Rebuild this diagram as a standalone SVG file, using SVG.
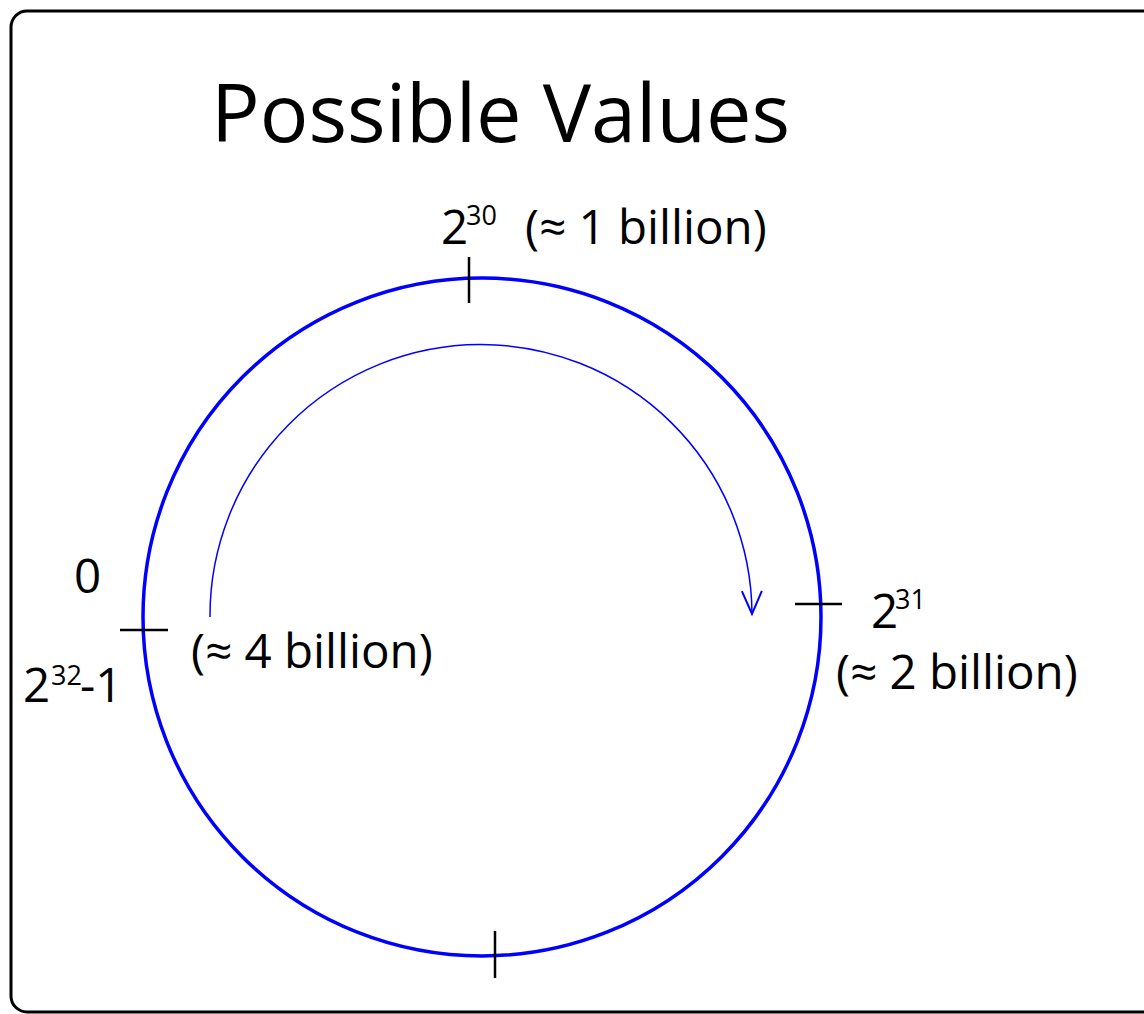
<svg xmlns="http://www.w3.org/2000/svg" width="1144" height="1014" viewBox="0 0 1144 1014">
<style>
text{font-family:"Open Sans","Noto Sans",sans-serif;fill:#000}
.lbl{font-size:47.5px}
.sup{font-size:27px}
.tick{stroke:#000;stroke-width:2.5;fill:none}
</style>
<defs>
<marker id="arr" viewBox="-25 -13 28 26" refX="0" refY="0" markerWidth="28" markerHeight="26" markerUnits="userSpaceOnUse" orient="auto">
<path d="M-23,-10 L0,0 L-23,10" fill="none" stroke="#0000ff" stroke-width="2"/>
</marker>
</defs>
<rect id="frame" x="11" y="11" width="1150" height="1001" rx="16" fill="#fff" stroke="#000" stroke-width="3"/>
<text id="title" x="211" y="142" style="font-size:81px">Possible Values</text>
<g id="ring">
<circle cx="482" cy="617" r="339" fill="none" stroke="#0000ff" stroke-width="3.5"/>
</g>
<g id="connectors">
<path d="M210,617 A271,271 0 0 1 752,614" fill="none" stroke="#0000ff" stroke-width="1.5" marker-end="url(#arr)"/>
</g>
<g id="ticks">
<line class="tick" x1="469" y1="257" x2="469" y2="303"/>
<line class="tick" x1="795" y1="604" x2="842" y2="604"/>
<line class="tick" x1="120" y1="630" x2="168" y2="630"/>
<line class="tick" x1="495" y1="931" x2="495" y2="978"/>
</g>
<g id="label-top">
<text class="lbl" x="441" y="244">2<tspan class="sup" x="466" y="225">30</tspan></text>
<text class="lbl" x="525" y="244">(≈ 1 billion)</text>
</g>
<g id="label-left">
<text class="lbl" x="74" y="593">0</text>
<text class="lbl" x="23" y="702">2<tspan class="sup" x="51" y="685">32</tspan><tspan x="80" y="702">-1</tspan></text>
<text class="lbl" x="191" y="668">(≈ 4 billion)</text>
</g>
<g id="label-right">
<text class="lbl" x="871" y="628">2<tspan class="sup" x="895" y="609">31</tspan></text>
<text class="lbl" x="836" y="689">(≈ 2 billion)</text>
</g>
</svg>
